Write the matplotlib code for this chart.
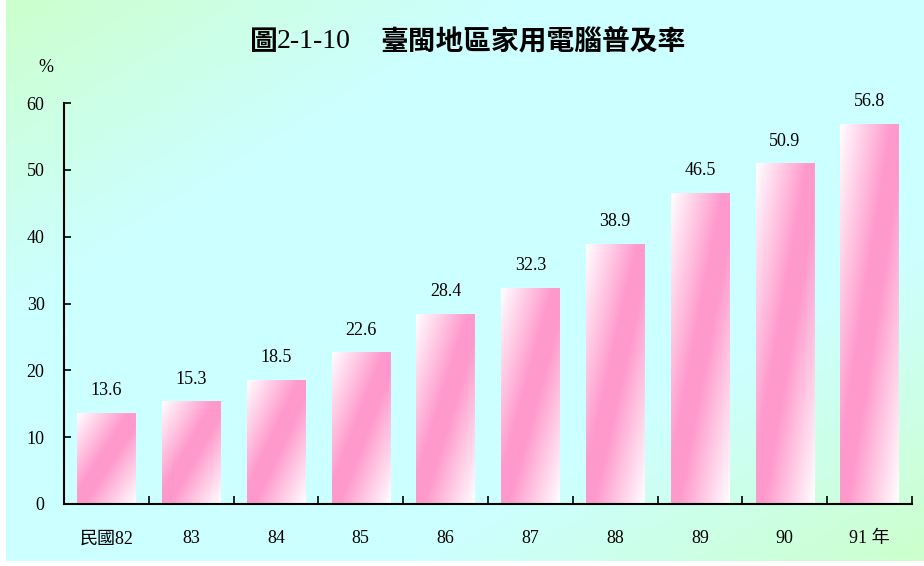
import numpy as np
import matplotlib
matplotlib.use('Agg')
import matplotlib.pyplot as plt

# data
years = ['民國82', '83', '84', '85', '86', '87', '88', '89', '90', '91 年']
rates = [13.6, 15.3, 18.5, 22.6, 28.4, 32.3, 38.9, 46.5, 50.9, 56.8]

SERIF = ['Liberation Serif', 'Noto Sans CJK TC']
plt.rcParams['font.family'] = SERIF

W, H = 924, 566
fig = plt.figure(figsize=(W / 100, H / 100), dpi=100)
fig.patch.set_facecolor('white')


def diag_gradient(c_end, c_mid, n=200, m=200, boost=1.0):
    u = np.linspace(0, 1, m)[None, :]
    v = np.linspace(0, 1, n)[:, None]   # 0 = top
    t = (u + v) / 2
    f = np.clip((1 - np.abs(2 * t - 1)) * boost, 0, 1)[..., None]
    c_end = np.array(c_end) / 255.0
    c_mid = np.array(c_mid) / 255.0
    return c_end + (c_mid - c_end) * f


# background panel
bg = fig.add_axes([6 / W, 5 / H, 1 - 6 / W, 1 - 5 / H])
bg.imshow(diag_gradient((204, 255, 204), (204, 255, 255), boost=1.8),
          aspect='auto', extent=(0, 1, 0, 1), origin='upper')
bg.set_axis_off()

ax = fig.add_axes([64 / W, (H - 504) / H, (912 - 64) / W, (504 - 103) / H])
ax.patch.set_alpha(0)

x = np.arange(len(years))
bars = ax.bar(x, rates, width=0.69, facecolor='none', edgecolor='none')
bar_img = diag_gradient((255, 255, 255), (255, 153, 204), boost=1.15)
for b, val in zip(bars, rates):
    x0 = b.get_x()
    ax.imshow(bar_img, aspect='auto', origin='upper',
              extent=(x0, x0 + b.get_width(), 0, b.get_height()), zorder=2)
    ax.annotate(f'{val:.1f}', (b.get_x() + b.get_width() / 2, val),
                xytext=(0, 10), textcoords='offset points',
                ha='center', va='bottom', fontsize=13)

ax.set_xlim(-0.5, len(years) - 0.5)
ax.set_ylim(0, 60)
ax.set_yticks(range(0, 61, 10))
ax.set_xticks(x)
ax.set_xticklabels(years)
ax.set_xticks(np.arange(0.5, len(years), 1), minor=True)

for s in ['top', 'right']:
    ax.spines[s].set_visible(False)
for s in ['left', 'bottom']:
    ax.spines[s].set_linewidth(1.5)
    ax.spines[s].set_zorder(5)

ax.tick_params(axis='y', direction='in', length=5, width=1.2, pad=14, labelsize=13)
ax.tick_params(axis='x', which='major', length=0, pad=19, labelsize=13)
ax.tick_params(axis='x', which='minor', direction='in', length=6, width=1.2)

fig.text(46 / W, 1 - 68 / H, '%', ha='center', va='center', fontsize=13)

# title: bold CJK with plain serif figure number
ty = 1 - 42 / H
fig.text(250 / W, ty, '圖', ha='left', va='center', fontsize=20,
         fontweight='bold', family='Noto Sans CJK TC')
fig.text(277 / W, ty, '2-1-10', ha='left', va='center', fontsize=20,
         family='Liberation Serif')
fig.text(380 / W, ty, '臺閩地區家用電腦普及率', ha='left', va='center',
         fontsize=20, fontweight='bold', family='Noto Sans CJK TC')

fig.savefig('out.png', dpi=100)
